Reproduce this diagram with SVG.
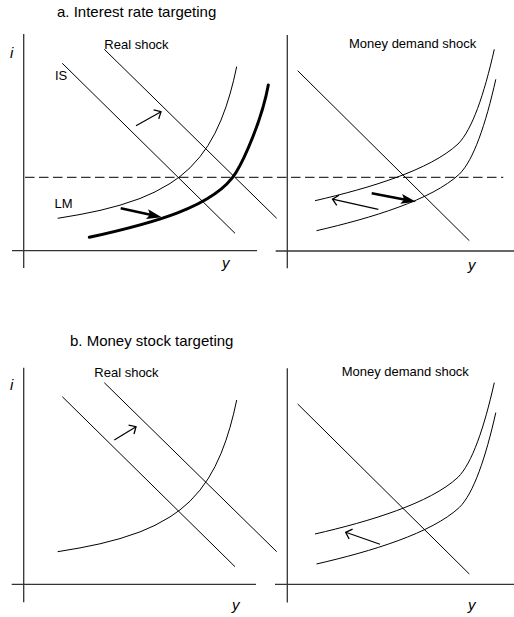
<svg xmlns="http://www.w3.org/2000/svg" width="514" height="617" viewBox="0 0 514 617">
<style>
text{font-family:"Liberation Sans",Arial,sans-serif;fill:#000}
.title{font-size:15px}
.lab{font-size:13px}
.ax{font-size:15px;font-style:italic}
.axis{stroke:#333;stroke-width:1.3;fill:none}
.ln{stroke:#000;stroke-width:1;fill:none;stroke-linejoin:round}
.thick{stroke:#000;stroke-width:3;fill:none;stroke-linecap:round}
.dash{stroke:#000;stroke-width:1;stroke-dasharray:9.5 4.5;fill:none}
.arr{stroke:#000;stroke-width:1.2;fill:none;marker-end:url(#open)}
.harr{stroke:#000;stroke-width:2.6;fill:none;marker-end:url(#solid)}
</style>
<defs>
<marker id="open" markerUnits="userSpaceOnUse" markerWidth="12" markerHeight="14" refX="7" refY="6" orient="auto" overflow="visible">
<path d="M1.5,0.8 L7,6 L1.5,11.2" fill="none" stroke="#000" stroke-width="1.3"/>
</marker>
<marker id="solid" markerUnits="userSpaceOnUse" markerWidth="16" markerHeight="12" refX="7" refY="5" orient="auto" overflow="visible">
<path d="M0,0 L15,5 L0,10 L3,5 z" fill="#000"/>
</marker>
<polyline id="lmA" points="57.7,218.3 80,214.5 100,210.4 120,205.2 140,198.5 155,191.9 170,183.5 180,176.5 190,167.8 200,156.7 208,145.5 215,133.2 221,120.1 226,106.8 230,94 233.5,80.8 236.7,66.6"/>
<path id="lmB" d="M315,200.7 C370,188 430,170 458,144 C472,130 484,95 494.3,49.3"/>
</defs>

<text class="title" x="57" y="16.7">a. Interest rate targeting</text>
<text class="title" x="70" y="345.7">b. Money stock targeting</text>

<g id="panel-a-real">
<line class="axis" x1="23.7" y1="34" x2="23.7" y2="268"/>
<line class="axis" x1="12" y1="250.7" x2="257" y2="250.7"/>
<text class="ax" x="10" y="58">i</text>
<text class="ax" x="222" y="268">y</text>
<text class="lab" x="104.3" y="49.3">Real shock</text>
<text class="lab" x="55" y="80">IS</text>
<text class="lab" x="54.5" y="208.3">LM</text>
<line class="ln" x1="62.3" y1="63.3" x2="235" y2="233.3"/>
<line class="ln" x1="104.3" y1="49.3" x2="276.7" y2="218.3"/>
<use href="#lmA" class="ln"/>
<path class="thick" d="M89.3,237.3 C150,224 215,207 236,172.5 C244,159.4 262,120 268.3,85"/>
</g>

<g id="panel-a-money">
<line class="axis" x1="287.3" y1="35" x2="287.3" y2="268.3"/>
<line class="axis" x1="275.7" y1="251" x2="514" y2="251"/>
<text class="ax" x="468" y="270">y</text>
<text class="lab" x="349" y="48.3">Money demand shock</text>
<line class="ln" x1="297.7" y1="70.7" x2="469.3" y2="240.7"/>
<use href="#lmB" class="ln"/>
<use href="#lmB" class="ln" transform="translate(1.5,30)"/>
</g>

<line id="target-rate" class="dash" x1="25" y1="177.3" x2="503.3" y2="177.3"/>

<g id="panel-b-real">
<line class="axis" x1="23.7" y1="367.7" x2="23.7" y2="602.3"/>
<line class="axis" x1="11.7" y1="584.3" x2="256" y2="584.3"/>
<text class="ax" x="10" y="390">i</text>
<text class="ax" x="232" y="609.5">y</text>
<text class="lab" x="94.3" y="376.7">Real shock</text>
<g transform="translate(0,333.4)">
<line class="ln" x1="62.3" y1="63.3" x2="235" y2="233.3"/>
<line class="ln" x1="104.3" y1="49.3" x2="276.7" y2="218.3"/>
<use href="#lmA" class="ln"/>
</g>
</g>

<g id="panel-b-money">
<line class="axis" x1="287.3" y1="368.3" x2="287.3" y2="602.5"/>
<line class="axis" x1="275" y1="584.3" x2="514" y2="584.3"/>
<text class="ax" x="468" y="609.5">y</text>
<text class="lab" x="341.7" y="375.7">Money demand shock</text>
<g transform="translate(0,333.3)">
<line class="ln" x1="297.7" y1="70.7" x2="469.3" y2="240.7"/>
<use href="#lmB" class="ln"/>
<use href="#lmB" class="ln" transform="translate(1.5,30)"/>
</g>
</g>

<g id="connectors">
<line class="arr" x1="136" y1="125.7" x2="161" y2="111.7"/>
<line class="harr" x1="120.7" y1="208.3" x2="153.9" y2="215.6"/>
<line class="arr" x1="378.3" y1="209.3" x2="332.5" y2="199.2"/>
<line class="harr" x1="371.7" y1="193.3" x2="408.1" y2="200.2"/>
<line class="arr" x1="114.3" y1="440" x2="136" y2="426.7"/>
<line class="arr" x1="380" y1="544.3" x2="345.7" y2="532.3"/>
</g>
</svg>
